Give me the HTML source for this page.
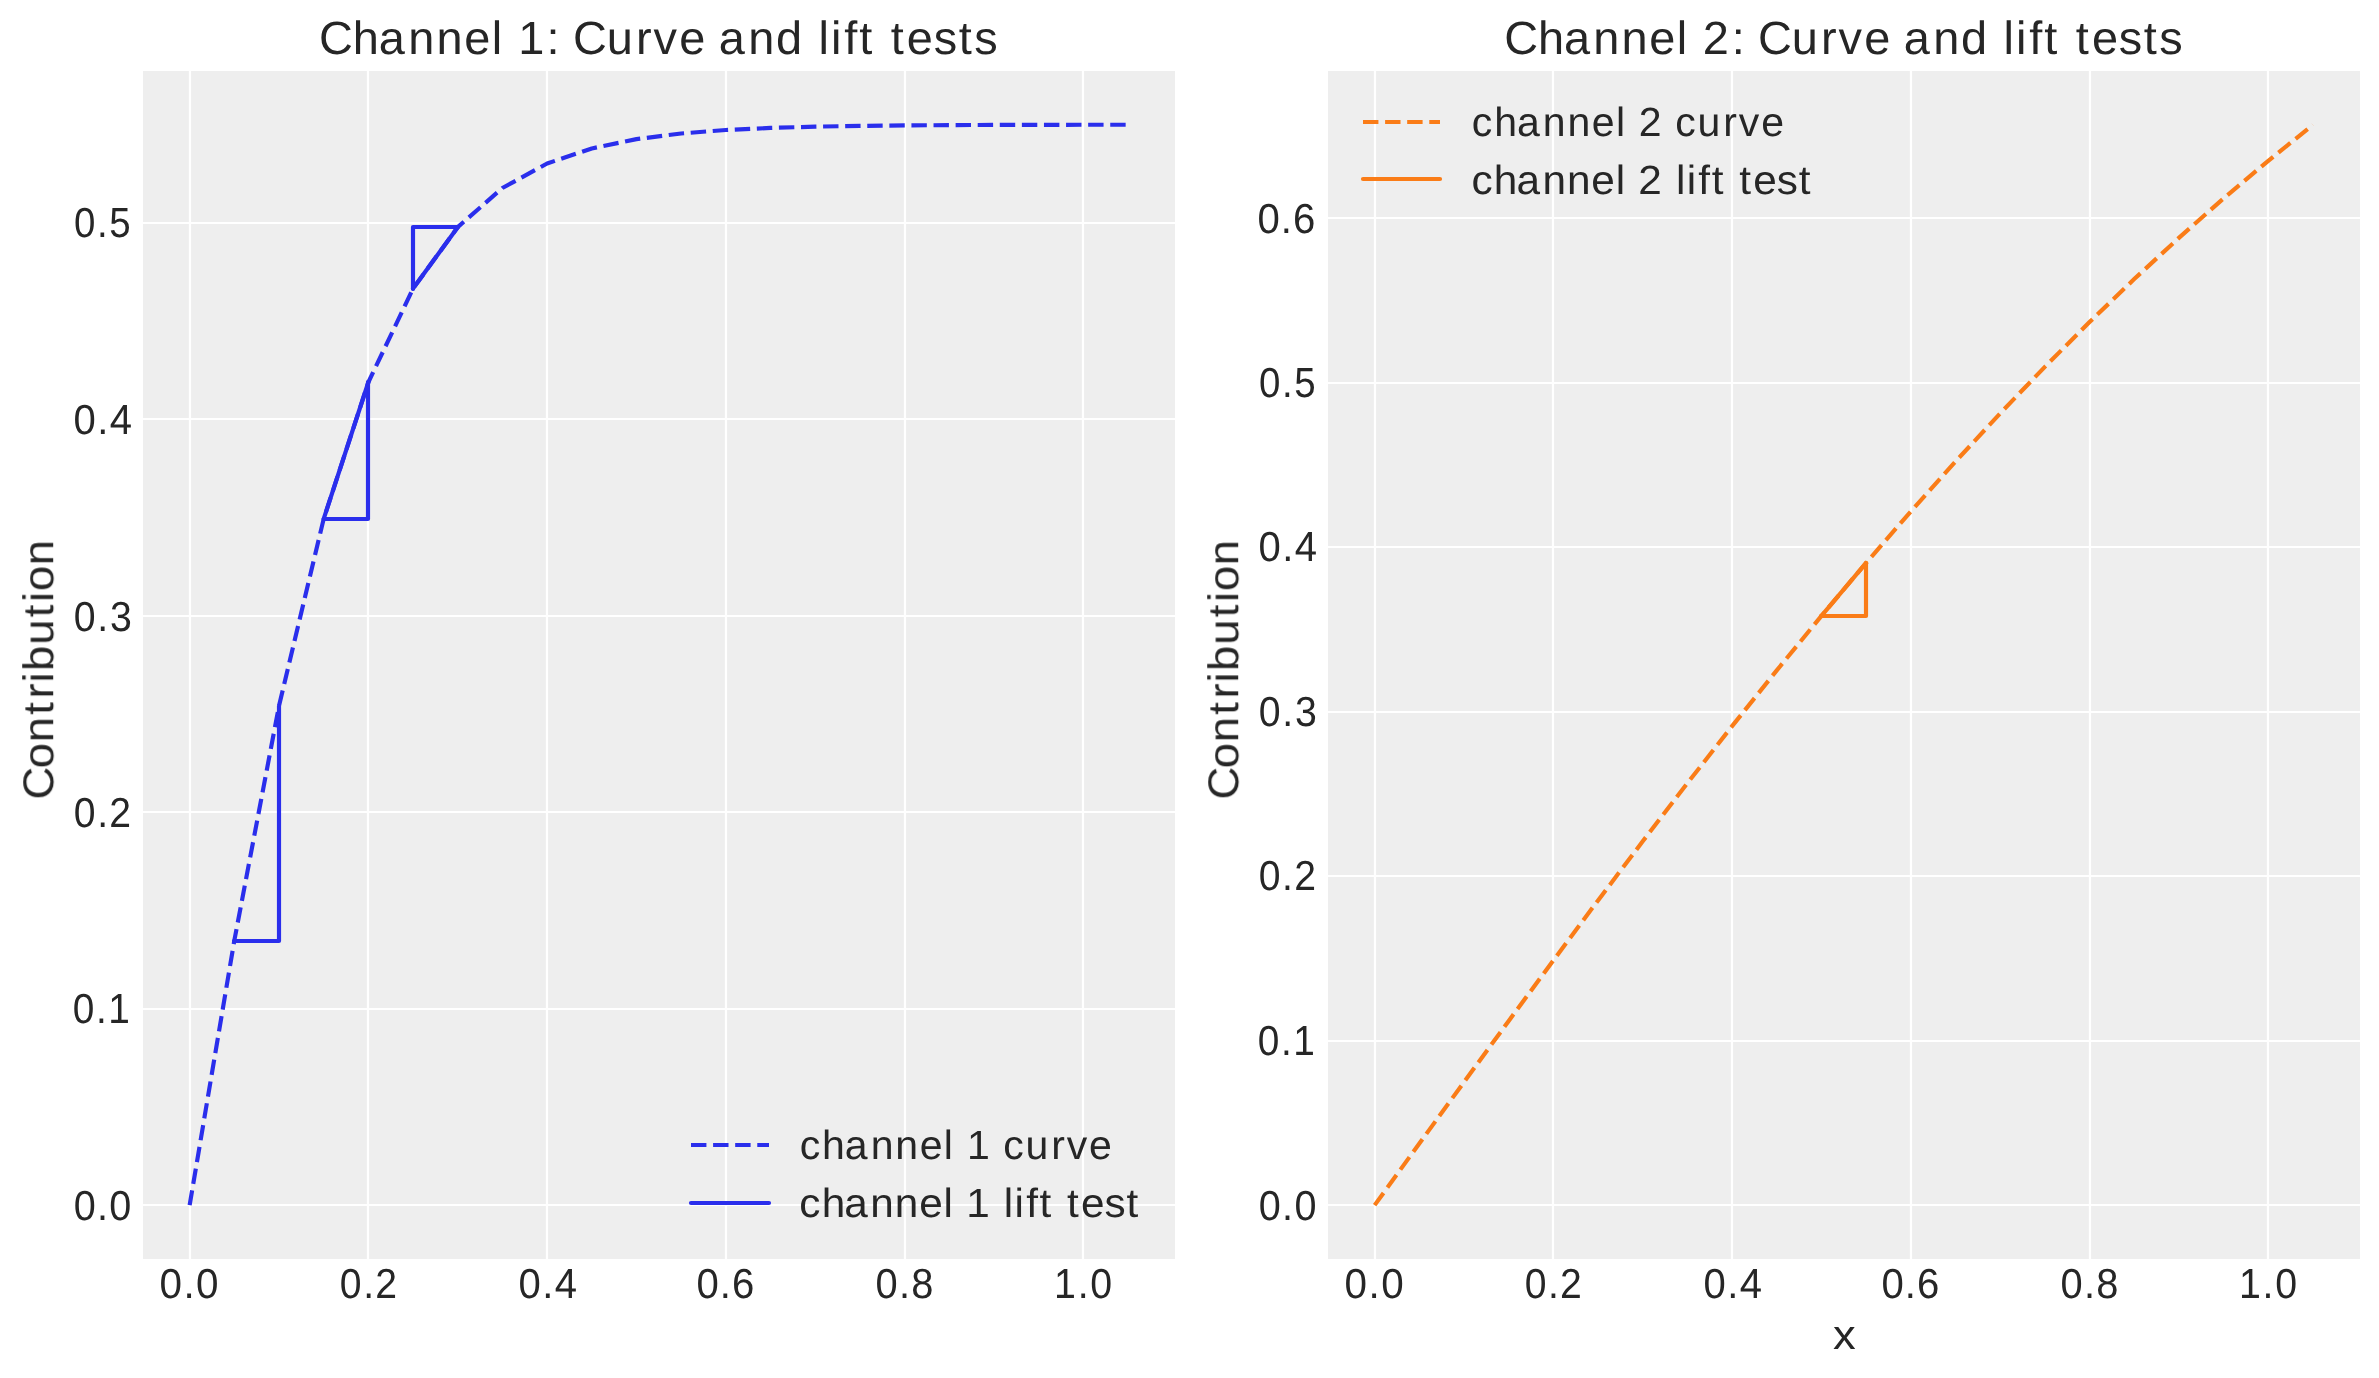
<!DOCTYPE html>
<html><head><meta charset="utf-8"><title>Channel curves and lift tests</title><style>
html,body{margin:0;padding:0;background:#fff;width:2379px;height:1378px;overflow:hidden}
svg{display:block}
text{font-family:"Liberation Sans",sans-serif;fill:#262626;font-kerning:none;text-rendering:geometricPrecision}
</style></head><body>
<svg width="2379" height="1378" viewBox="0 0 2379 1378">
<rect x="0" y="0" width="2379" height="1378" fill="#ffffff"/>
<rect x="143" y="71" width="1032" height="1188" fill="#eeeeee"/>
<path d="M190 71V1259M368 71V1259M547 71V1259M726 71V1259M905 71V1259M1083 71V1259M143 1205H1175M143 1009H1175M143 812H1175M143 616H1175M143 419H1175M143 223H1175" stroke="#ffffff" stroke-width="2.22" fill="none"/>
<rect x="1328" y="71" width="1032" height="1188" fill="#eeeeee"/>
<path d="M1375 71V1259M1553 71V1259M1732 71V1259M1911 71V1259M2090 71V1259M2268 71V1259M1328 1205H2360M1328 1041H2360M1328 876H2360M1328 712H2360M1328 547H2360M1328 383H2360M1328 218H2360" stroke="#ffffff" stroke-width="2.22" fill="none"/>
<g>
<polyline points="189.65,1205.15 234.33,940.52 279.01,705.84 323.69,518.89 368.37,382.27 413.05,288.6 457.73,227.16 502.41,188.02 547.09,163.54 591.77,148.42 636.45,139.14 681.13,133.47 725.81,130.02 770.49,127.92 815.17,126.64 859.85,125.87 904.53,125.4 949.21,125.11 993.89,124.94 1038.57,124.84 1083.25,124.77 1127.93,124.73" fill="none" stroke="#2a2eec" stroke-width="4.17" stroke-dasharray="15.42 6.67" stroke-dashoffset="0.45" stroke-linejoin="round" stroke-linecap="butt"/>
<polyline points="234,941 279,941 279,706" fill="none" stroke="#2a2eec" stroke-width="4.17" stroke-linejoin="round" stroke-linecap="round"/>
<polyline points="324,519 368,519 368,382" fill="none" stroke="#2a2eec" stroke-width="4.17" stroke-linejoin="round" stroke-linecap="round"/>
<polyline points="368.37,382.27 323.69,518.89" fill="none" stroke="#2a2eec" stroke-width="4.17" stroke-linejoin="round" stroke-linecap="round"/>
<polyline points="458,227 413,227 413,289" fill="none" stroke="#2a2eec" stroke-width="4.17" stroke-linejoin="round" stroke-linecap="round"/>
<polyline points="413.05,288.6 457.73,227.16" fill="none" stroke="#2a2eec" stroke-width="4.17" stroke-linejoin="round" stroke-linecap="round"/>
<polyline points="1374.65,1205.15 1419.33,1143.52 1464.01,1082.06 1508.69,1020.95 1553.37,960.34 1598.05,900.41 1642.73,841.31 1687.41,783.18 1732.09,726.15 1776.77,670.36 1821.45,615.91 1866.13,562.91 1910.81,511.43 1955.49,461.56 2000.17,413.35 2044.85,366.85 2089.53,322.09 2134.21,279.1 2178.89,237.89 2223.57,198.45 2268.25,160.79 2312.93,124.88" fill="none" stroke="#fa7c17" stroke-width="4.17" stroke-dasharray="15.42 6.67" stroke-dashoffset="0.3" stroke-linejoin="round" stroke-linecap="butt"/>
<polyline points="1821,616 1866,616 1866,563" fill="none" stroke="#fa7c17" stroke-width="4.17" stroke-linejoin="round" stroke-linecap="round"/>
<polyline points="1866.13,562.91 1821.45,615.91" fill="none" stroke="#fa7c17" stroke-width="4.17" stroke-linejoin="round" stroke-linecap="round"/>
</g>
<path d="M691 1145H769" stroke="#2a2eec" stroke-width="4.17" stroke-dasharray="15.42 6.67" fill="none"/>
<path d="M691 1203H769" stroke="#2a2eec" stroke-width="4.17" stroke-linecap="round" fill="none"/>
<path d="M1363 122H1440" stroke="#fa7c17" stroke-width="4.17" stroke-dasharray="15.42 6.67" fill="none"/>
<path d="M1363 179H1440" stroke="#fa7c17" stroke-width="4.17" stroke-linecap="round" fill="none"/>
<filter id="gs" filterUnits="userSpaceOnUse" x="0" y="0" width="2379" height="1378"><feOffset dx="0" dy="0"/></filter>
<g filter="url(#gs)">
<text x="316.93 350.46 376.27 405.54 433.51 461.06 488.46 498.82 514.62 542.84 555.79 569.08 602.49 631.69 649.08 674.49 700.41 713.86 743.12 770.75 796.67 812.97 825.25 838.39 853.38 866.33 884.71 900.65 927.25 952.15 967.54" y="54" font-size="46.6" transform="scale(1.0069 1)">Channel 1: Curve and lift tests</text>
<text x="1493.4 1526.93 1552.73 1581.99 1609.95 1637.49 1664.89 1675.24 1690.69 1719.25 1732.2 1745.48 1778.89 1808.07 1825.46 1850.86 1876.78 1890.21 1919.47 1947.09 1973.01 1989.3 2001.58 2014.71 2029.7 2042.65 2061.02 2076.95 2103.55 2128.44 2143.83" y="54" font-size="46.6" transform="scale(1.0072 1)">Channel 2: Curve and lift tests</text>
<text transform="translate(53.2 795) rotate(-90) scale(1.0621 1)" x="-4.23 25.18 49.6 75.42 90.76 105.91 116.81 141.3 167.28 181.7 191.94 216.36" y="0" font-size="42.83">Contribution</text>
<text transform="translate(1238.2 795) rotate(-90) scale(1.0621 1)" x="-4.23 25.18 49.6 75.42 90.76 105.91 116.81 141.3 167.28 181.7 191.94 216.36" y="0" font-size="42.83">Contribution</text>
<text x="1676.23" y="1348.8" font-size="41.52" transform="scale(1.0935 1)">x</text>
<text x="795.84 818.12 840.79 866.49 891.05 915.25 939.28 948.35 962.29 984.98 998.49 1020.66 1046.28 1061.57 1083.89" y="1159.1" font-size="40.8" transform="scale(1.0048 1)">channel 1 curve</text>
<text x="771.55 793.1 815.04 839.96 863.76 887.2 910.7 919.76 932.75 955.45 968.89 979.34 990.48 1003.27 1014.6 1029.92 1043.34 1066.01 1087.3" y="1217.2" font-size="40.8" transform="scale(1.0360 1)">channel 1 lift test</text>
<text x="1464.5 1486.76 1509.41 1535.1 1559.65 1583.83 1607.86 1616.92 1630.54 1653.23 1667.03 1689.18 1714.8 1730.07 1752.38" y="136.2" font-size="40.8" transform="scale(1.0050 1)">channel 2 curve</text>
<text x="1419.42 1440.96 1462.89 1487.8 1511.59 1535.02 1558.52 1567.58 1580.28 1602.98 1616.68 1627.13 1638.26 1651.05 1662.38 1677.69 1691.1 1713.76 1735.05" y="194.1" font-size="40.8" transform="scale(1.0367 1)">channel 2 lift test</text>
<text x="165.71 190.5 203.62" y="1297.8" font-size="42" transform="scale(0.9631 1)">0.0</text>
<text x="1396.14 1420.92 1434.05" y="1297.7" font-size="42" transform="scale(0.9631 1)">0.0</text>
<text x="364.61 389.71 402.6" y="1297.7" font-size="42" transform="scale(0.9319 1)">0.2</text>
<text x="1636.15 1661.24 1674.14" y="1297.7" font-size="42" transform="scale(0.9319 1)">0.2</text>
<text x="544.23 569.02 582.14" y="1297.7" font-size="42" transform="scale(0.9529 1)">0.4</text>
<text x="1787.77 1812.56 1825.68" y="1297.7" font-size="42" transform="scale(0.9529 1)">0.4</text>
<text x="729.41 753.91 766.74" y="1297.7" font-size="42" transform="scale(0.9548 1)">0.6</text>
<text x="1970.46 1994.96 2007.79" y="1297.7" font-size="42" transform="scale(0.9548 1)">0.6</text>
<text x="923.36 948.06 961.09" y="1297.7" font-size="42" transform="scale(0.9482 1)">0.8</text>
<text x="2173.04 2197.73 2210.76" y="1297.7" font-size="42" transform="scale(0.9482 1)">0.8</text>
<text x="1126.47 1151.84 1165.33" y="1297.7" font-size="42" transform="scale(0.9356 1)">1.0</text>
<text x="2393 2418.37 2431.86" y="1297.7" font-size="42" transform="scale(0.9356 1)">1.0</text>
<text x="78.13 102.92 116.04" y="1219.7" font-size="42" transform="scale(0.9424 1)">0.0</text>
<text x="78.85 104.01 117.29" y="1022.7" font-size="42" transform="scale(0.9238 1)">0.1</text>
<text x="79.19 104.28 117.18" y="826.7" font-size="42" transform="scale(0.9319 1)">0.2</text>
<text x="79.01 104.14 117.66" y="630.7" font-size="42" transform="scale(0.9343 1)">0.3</text>
<text x="77.25 102.04 115.16" y="433.7" font-size="42" transform="scale(0.9529 1)">0.4</text>
<text x="80.8 106.08 119.54" y="236.9" font-size="42" transform="scale(0.9148 1)">0.5</text>
<text x="1335.6 1360.39 1373.51" y="1219.7" font-size="42" transform="scale(0.9424 1)">0.0</text>
<text x="1361.56 1386.72 1400" y="1054.7" font-size="42" transform="scale(0.9238 1)">0.1</text>
<text x="1350.72 1375.81 1388.71" y="889.7" font-size="42" transform="scale(0.9319 1)">0.2</text>
<text x="1347.37 1372.5 1386.02" y="725.7" font-size="42" transform="scale(0.9343 1)">0.3</text>
<text x="1320.79 1345.57 1358.69" y="560.7" font-size="42" transform="scale(0.9529 1)">0.4</text>
<text x="1376.16 1401.44 1414.9" y="396.7" font-size="42" transform="scale(0.9148 1)">0.5</text>
<text x="1316.95 1341.44 1354.27" y="232.8" font-size="42" transform="scale(0.9548 1)">0.6</text>
</g>
</svg>
</body></html>
